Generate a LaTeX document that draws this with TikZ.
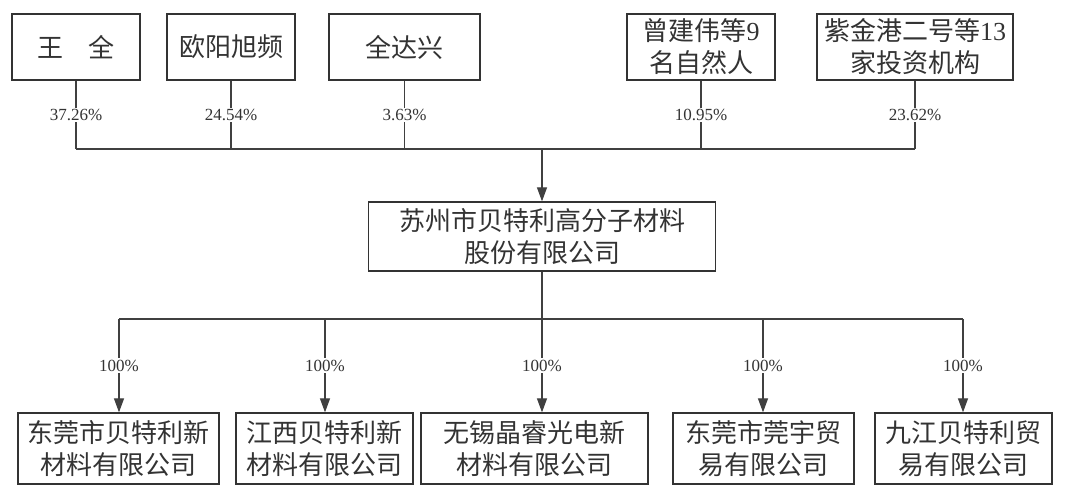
\documentclass[tikz,border=0pt]{standalone}
\usepackage{fontspec}
\setmainfont{Liberation Serif}
\newfontfamily\cjk{Noto Sans CJK SC}
\usetikzlibrary{arrows.meta}

\begin{document}
\begin{tikzpicture}[x=1pt,y=1pt,
    box/.style={draw=black!80, line width=1.3pt, align=center, inner sep=0pt,
        text=black!80, font=\cjk\fontsize{26}{32}\selectfont},
    link/.style={draw=black!75, line width=1.2pt},
    share/.style={fill=white, inner sep=1.5pt, text=black!80,
        font=\fontsize{17}{17}\selectfont},
    tip/.style={-{Triangle[length=14pt,width=10pt]}}]

    \useasboundingbox (0,0) rectangle (1080,491);

    % --- Shareholders (top row) ---
    \node[box, minimum width=128, minimum height=66] (wang) at (76,444) {王\hspace{1em}全};
    \node[box, minimum width=128, minimum height=66] (ouyang) at (231,444) {欧阳旭频};
    \node[box, minimum width=151, minimum height=66] (quan) at (404.5,444) {全达兴};
    \node[box, minimum width=148, minimum height=66] (zeng) at (701,444) {曾建伟等{\rmfamily 9}\\名自然人};
    \node[box, minimum width=196, minimum height=66] (zijin) at (915,444) {紫金港二号等{\rmfamily 13}\\家投资机构};

    % --- Company ---
    \node[box, minimum width=347, minimum height=69] (main) at (542,254.5) {苏州市贝特利高分子材料\\股份有限公司};

    % --- Subsidiaries (bottom row) ---
    \node[box, minimum width=201, minimum height=71] (dgx) at (118.5,42.5) {东莞市贝特利新\\材料有限公司};
    \node[box, minimum width=177, minimum height=71] (jx) at (324.5,42.5) {江西贝特利新\\材料有限公司};
    \node[box, minimum width=227, minimum height=71] (wx) at (534.5,42.5) {无锡晶睿光电新\\材料有限公司};
    \node[box, minimum width=181, minimum height=71] (dgy) at (763.5,42.5) {东莞市莞宇贸\\易有限公司};
    \node[box, minimum width=177, minimum height=71] (jj) at (963.5,42.5) {九江贝特利贸\\易有限公司};

    % --- Upper bus ---
    \coordinate (u1) at (76,342);
    \coordinate (u2) at (231,342);
    \coordinate (u3) at (404.5,342);
    \coordinate (u0) at (542,342);
    \coordinate (u4) at (701,342);
    \coordinate (u5) at (915,342);

    \draw[link] (wang) -- node[share] {37.26\%} (u1);
    \draw[link] (ouyang) -- node[share] {24.54\%} (u2);
    \draw[link] (quan) -- node[share] {3.63\%} (u3);
    \draw[link] (zeng) -- node[share] {10.95\%} (u4);
    \draw[link] (zijin) -- node[share] {23.62\%} (u5);
    \draw[link] (u1) -- (u5);
    \draw[link, tip] (u0) -- (main);

    % --- Lower bus ---
    \coordinate (d1) at (119,172);
    \coordinate (d2) at (325,172);
    \coordinate (d0) at (542,172);
    \coordinate (d4) at (763,172);
    \coordinate (d5) at (963,172);

    \draw[link] (main) -- (d0);
    \draw[link] (d1) -- (d5);
    \draw[link, tip] (d1) -- node[share] {100\%} (d1 |- dgx.north);
    \draw[link, tip] (d2) -- node[share] {100\%} (d2 |- jx.north);
    \draw[link, tip] (d0) -- node[share] {100\%} (d0 |- wx.north);
    \draw[link, tip] (d4) -- node[share] {100\%} (d4 |- dgy.north);
    \draw[link, tip] (d5) -- node[share] {100\%} (d5 |- jj.north);

\end{tikzpicture}
\end{document}
